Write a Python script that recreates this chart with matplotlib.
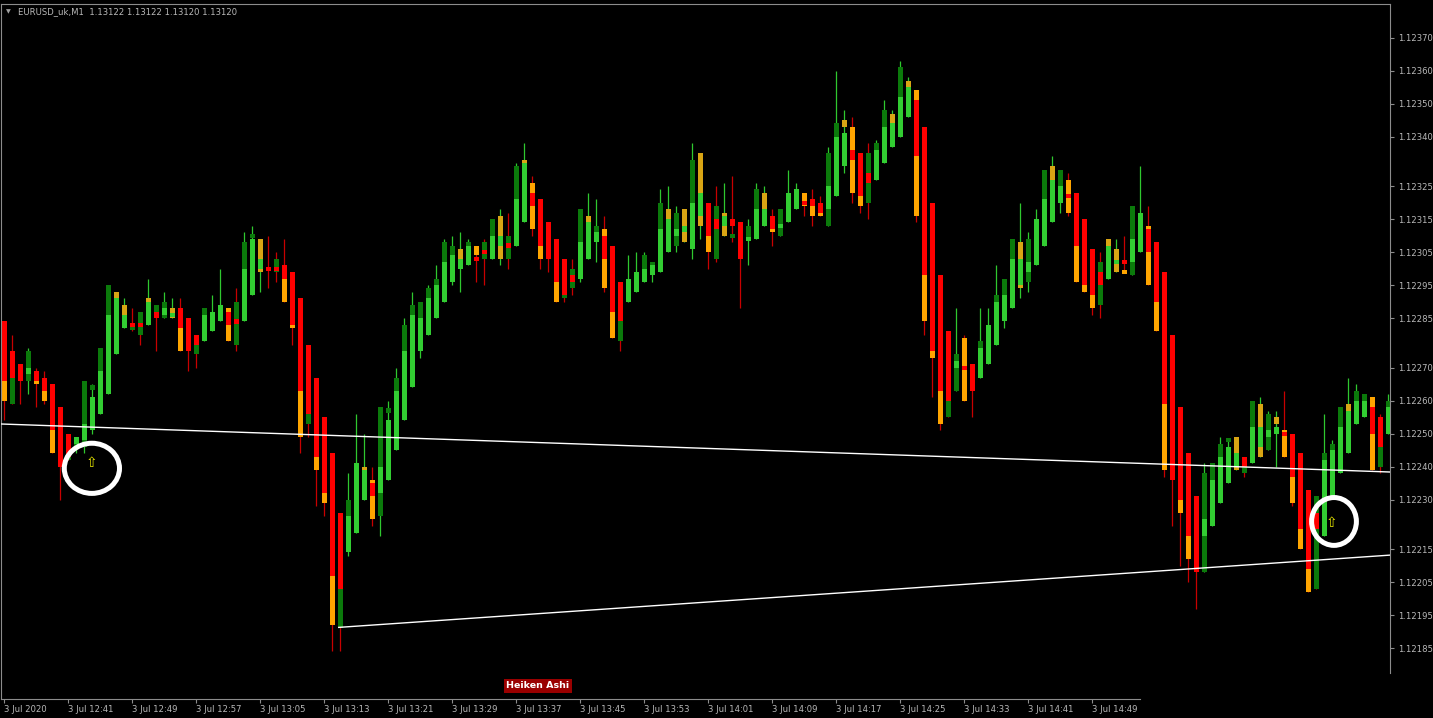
import numpy as np
import matplotlib.pyplot as plt
from matplotlib.patches import Ellipse

# prices are given in points (0.00001) above 1.12000
BASE = 1.12
PT = 0.00001

high_pts = [
    284, 280, 271, 276, 270, 269, 265, 258, 250, 249,
    266, 265, 276, 295, 293, 291, 288, 287, 297, 289,
    293, 291, 291, 285, 280, 288, 292, 300, 288, 294,
    311, 313, 309, 310, 305, 309, 299, 291, 277, 267,
    255, 244, 226, 238, 256, 250, 240, 258, 260, 270,
    285, 293, 290, 295, 301, 309, 310, 311, 309, 307,
    309, 315, 318, 317, 332, 338, 328, 321, 314, 309,
    303, 303, 318, 323, 321, 316, 307, 296, 304, 305,
    305, 302, 324, 325, 319, 318, 338, 335, 320, 325,
    326, 328, 314, 315, 326, 325, 318, 318, 330, 326,
    323, 324, 322, 337, 360, 348, 346, 335, 338, 339,
    351, 348, 363, 358, 354, 343, 320, 298, 281, 288,
    280, 271, 288, 288, 301, 297, 309, 320, 311, 318,
    330, 334, 330, 329, 323, 315, 306, 305, 309, 309,
    310, 319, 331, 319, 308, 299, 280, 258, 244, 231,
    241, 241, 249, 248, 249, 243, 260, 261, 257, 257,
    263, 250, 244, 233, 231, 256, 248, 258, 267, 265,
    262, 261, 256, 262,
]
low_pts = [
    254, 259, 259, 262, 258, 259, 244, 230, 242, 244,
    244, 250, 256, 262, 274, 282, 281, 277, 283, 275,
    285, 285, 275, 269, 270, 278, 281, 284, 278, 275,
    284, 292, 293, 294, 296, 290, 277, 244, 249, 228,
    225, 184, 184, 213, 220, 230, 222, 219, 236, 245,
    254, 264, 273, 280, 285, 290, 295, 293, 301, 296,
    295, 303, 301, 300, 307, 314, 310, 300, 299, 290,
    290, 292, 296, 303, 302, 293, 279, 275, 290, 293,
    296, 296, 299, 305, 305, 308, 303, 309, 300, 302,
    310, 308, 288, 301, 309, 313, 307, 310, 314, 318,
    316, 313, 316, 313, 322, 329, 320, 317, 315, 327,
    332, 337, 340, 346, 314, 280, 261, 251, 255, 263,
    260, 255, 267, 271, 277, 282, 288, 291, 293, 301,
    307, 314, 317, 316, 296, 293, 286, 285, 297, 299,
    299, 298, 305, 295, 281, 237, 222, 210, 205, 197,
    208, 222, 229, 235, 239, 237, 241, 243, 245, 240,
    243, 228, 215, 202, 203, 219, 231, 238, 244, 253,
    255, 239, 238, 250,
]
ha_open_pts = [
    284, 275, 271, 268, 269, 267, 265, 258, 250, 247,
    248, 251, 256, 262, 274, 282, 284, 284, 283, 287,
    286, 286, 288, 285, 280, 278, 281, 284, 287, 285,
    284, 292, 300, 301, 301, 301, 299, 291, 277, 267,
    255, 244, 226, 214, 220, 230, 235, 232, 236, 245,
    254, 264, 275, 280, 285, 290, 296, 300, 301, 304,
    306, 303, 307, 308, 307, 314, 323, 321, 314, 309,
    303, 298, 297, 303, 308, 310, 307, 296, 290, 293,
    296, 298, 299, 305, 310, 311, 306, 316, 320, 315,
    313, 315, 314, 309, 309, 313, 316, 313, 314, 318,
    321, 321, 320, 318, 322, 331, 336, 335, 329, 327,
    332, 337, 340, 346, 351, 343, 320, 298, 281, 270,
    271, 271, 267, 271, 277, 284, 288, 295, 299, 301,
    307, 314, 320, 323, 323, 315, 306, 299, 297, 302,
    303, 302, 305, 312, 308, 299, 280, 258, 244, 231,
    219, 222, 229, 235, 240, 243, 241, 246, 249, 250,
    251, 250, 244, 233, 226, 219, 231, 238, 244, 253,
    255, 258, 255, 250,
]
ha_close_pts = [
    266, 267, 266, 270, 266, 263, 251, 240, 243, 249,
    253, 261, 269, 286, 291, 286, 283, 283, 290, 285,
    288, 287, 282, 275, 277, 286, 287, 289, 283, 284,
    300, 309, 303, 300, 300, 297, 283, 263, 256, 243,
    232, 207, 203, 225, 241, 239, 231, 240, 254, 263,
    275, 286, 285, 291, 295, 302, 304, 303, 307, 303,
    305, 310, 310, 307, 321, 332, 319, 307, 303, 296,
    292, 296, 308, 314, 311, 303, 287, 284, 297, 299,
    300, 301, 312, 315, 312, 313, 320, 323, 310, 312,
    316, 313, 303, 310, 318, 318, 312, 314, 323, 324,
    320, 319, 317, 325, 340, 341, 333, 322, 326, 336,
    343, 344, 352, 355, 334, 298, 275, 263, 260, 272,
    270, 263, 276, 283, 290, 292, 303, 303, 302, 315,
    321, 327, 325, 322, 307, 295, 292, 295, 307, 303,
    302, 309, 317, 305, 290, 259, 236, 230, 219, 208,
    224, 236, 243, 246, 244, 240, 252, 252, 251, 252,
    250, 237, 221, 209, 221, 242, 245, 252, 257, 260,
    260, 250, 246, 258,
]
open_pts = [
    280, 259, 271, 266, 269, 267, 260, 258, 242, 246,
    246, 264, 262, 278, 293, 289, 282, 280, 291, 286,
    285, 288, 287, 285, 274, 283, 281, 284, 288, 277,
    293, 310, 309, 300, 299, 300, 296, 281, 253, 254,
    242, 224, 191, 218, 220, 240, 236, 225, 257, 254,
    266, 278, 281, 287, 290, 296, 300, 306, 304, 307,
    303, 307, 316, 303, 315, 333, 326, 316, 314, 303,
    291, 294, 303, 316, 310, 312, 296, 278, 290, 293,
    298, 300, 307, 318, 307, 318, 315, 335, 316, 303,
    317, 310, 314, 309, 315, 323, 316, 310, 314, 318,
    323, 321, 320, 313, 333, 345, 343, 330, 320, 333,
    339, 347, 348, 357, 354, 321, 296, 281, 255, 263,
    279, 271, 272, 271, 284, 289, 296, 308, 296, 301,
    315, 331, 322, 327, 312, 303, 296, 289, 309, 306,
    300, 298, 305, 313, 296, 275, 280, 239, 227, 231,
    208, 230, 236, 248, 249, 238, 248, 259, 245, 255,
    251, 242, 230, 218, 203, 236, 242, 248, 259, 257,
    259, 261, 240, 256,
]
close_pts = [
    260, 271, 266, 275, 265, 260, 244, 240, 248, 249,
    266, 264, 276, 295, 290, 284, 282, 287, 287, 289,
    290, 285, 275, 275, 278, 288, 287, 289, 278, 290,
    308, 310, 299, 301, 303, 290, 282, 249, 266, 239,
    229, 192, 212, 230, 241, 236, 224, 258, 257, 267,
    283, 289, 290, 294, 297, 308, 307, 302, 308, 304,
    308, 315, 303, 310, 331, 330, 312, 303, 303, 290,
    300, 300, 318, 312, 313, 294, 279, 290, 297, 299,
    304, 302, 320, 312, 317, 308, 333, 313, 305, 319,
    310, 310, 303, 313, 324, 313, 311, 318, 323, 324,
    319, 316, 316, 335, 344, 343, 323, 319, 335, 338,
    348, 342, 361, 354, 316, 284, 273, 253, 269, 274,
    260, 263, 278, 283, 292, 297, 309, 294, 309, 315,
    330, 325, 330, 317, 296, 293, 288, 302, 304, 299,
    299, 319, 317, 295, 281, 239, 236, 226, 212, 208,
    238, 241, 247, 248, 239, 243, 260, 243, 256, 253,
    243, 229, 215, 202, 231, 244, 247, 258, 256, 263,
    262, 239, 251, 260,
]

time_labels = ["3 Jul 2020", "3 Jul 12:41", "3 Jul 12:49", "3 Jul 12:57", "3 Jul 13:05",
               "3 Jul 13:13", "3 Jul 13:21", "3 Jul 13:29", "3 Jul 13:37", "3 Jul 13:45",
               "3 Jul 13:53", "3 Jul 14:01", "3 Jul 14:09", "3 Jul 14:17", "3 Jul 14:25",
               "3 Jul 14:33", "3 Jul 14:41", "3 Jul 14:49"]
time_label_bars = [0, 8, 16, 24, 32, 40, 48, 56, 64, 72, 80, 88, 96, 104, 112, 120, 128, 136]
price_ticks = [1.12370, 1.12360, 1.12350, 1.12340, 1.12325, 1.12315, 1.12305, 1.12295,
               1.12285, 1.12270, 1.12260, 1.12250, 1.12240, 1.12230, 1.12215, 1.12205,
               1.12195, 1.12185]

# trend lines: (bar, price) anchors
upper_line = [(0, 1.122529), (173, 1.122384)]
lower_line = [(41.8, 1.121913), (173.2, 1.122132)]
# marked signals: (bar, price)
signals = [(10.95, 1.122395), (166.2, 1.122234)]
signal_sizes = [(6.9, 0.000152), (5.6, 0.000145)]
arrows = [(10.9, 1.122412), (165.9, 1.122229)]

W, H = 1433, 718
fig = plt.figure(figsize=(W / 100, H / 100), dpi=100, facecolor="black")
ax = fig.add_axes([1 / W, 1 - 699 / H, 1389 / W, 695 / H])
ax.set_facecolor("black")

hi = BASE + np.array(high_pts) * PT
lo = BASE + np.array(low_pts) * PT
hao = BASE + np.array(ha_open_pts) * PT
hac = BASE + np.array(ha_close_pts) * PT
op = BASE + np.array(open_pts) * PT
cl = BASE + np.array(close_pts) * PT
x = np.arange(len(hi))

ha_up = hac >= hao
cd_up = cl >= op
bw = 0.66
min_h = 1.3 * PT

wick_col = np.where(ha_up, "#2fc82f", "#c80000")
ax.vlines(x, lo, hi, colors=wick_col, lw=0.9, zorder=1)

cd_col = []
for u, hu in zip(cd_up, ha_up):
    if u:
        cd_col.append("#0b7a0b")
    else:
        cd_col.append("#ffa500" if not hu else "#d9a514")
cd_bot = np.minimum(op, cl)
cd_h = np.abs(cl - op)
cd_bot = np.where(cd_h < min_h, cd_bot - min_h / 2, cd_bot)
ax.bar(x, np.maximum(cd_h, min_h), bottom=cd_bot, width=bw, color=cd_col, lw=0, zorder=2)

ha_col = np.where(ha_up, "#32cd32", "#ff0000")
ha_bot = np.minimum(hao, hac)
ha_h = np.abs(hac - hao)
ha_bot = np.where(ha_h < min_h, ha_bot - min_h / 2, ha_bot)
ax.bar(x, np.maximum(ha_h, min_h), bottom=ha_bot, width=bw, color=ha_col, lw=0, zorder=3)

# trend lines
ax.axline(upper_line[0], upper_line[1], color="white", lw=1.0, zorder=4)
ax.plot([p[0] for p in lower_line], [p[1] for p in lower_line], color="white", lw=1.0, zorder=4)

for (cx, cy), (ew, eh) in zip(signals, signal_sizes):
    ax.add_patch(Ellipse((cx, cy), ew, eh, fill=False, ec="white", lw=3.6, zorder=5))
for ax_x, ax_y in arrows:
    ax.text(ax_x, ax_y, "\u21e7", color="#e6e600", fontsize=10, ha="center", va="center", zorder=6)

ax.set_xlim(-0.41, 173.2)
ax.set_ylim(BASE + 169.6 * PT, BASE + 380.2 * PT)

grey = "#8c8c8c"
for s in ax.spines.values():
    s.set_color(grey)
    s.set_linewidth(0.8)
ax.spines["right"].set_bounds(BASE + 177.5 * PT, BASE + 380.2 * PT)
ax.spines["bottom"].set_bounds(-0.41, 142)

ax.yaxis.tick_right()
ax.set_yticks(price_ticks)
ax.set_yticklabels(["%.5f" % p for p in price_ticks])
ax.set_xticks(time_label_bars)
ax.set_xticklabels(time_labels)
for lab in ax.get_xticklabels():
    lab.set_ha("left")
ax.tick_params(axis="both", colors=grey, labelcolor="#b8b8b8", labelsize=6.1,
               length=3, width=0.8, direction="out")
ax.tick_params(axis="x", pad=1.5)
ax.tick_params(axis="y", pad=3)

fig.text(6 / W, 1 - 12 / H, "\u25bc", color="#a0a0a0", fontsize=4.5, va="center")
fig.text(18 / W, 1 - 12 / H, "EURUSD_uk,M1  1.13122 1.13122 1.13120 1.13120",
         color="#b8b8b8", fontsize=6.1, va="center")
fig.text(538 / W, 1 - 686 / H, "Heiken Ashi", color="white", fontsize=6.8, fontweight="bold",
         ha="center", va="center",
         bbox=dict(boxstyle="square,pad=0.3", fc="#9a0000", ec="none"))

fig.savefig("out.png", dpi=100, facecolor="black")
